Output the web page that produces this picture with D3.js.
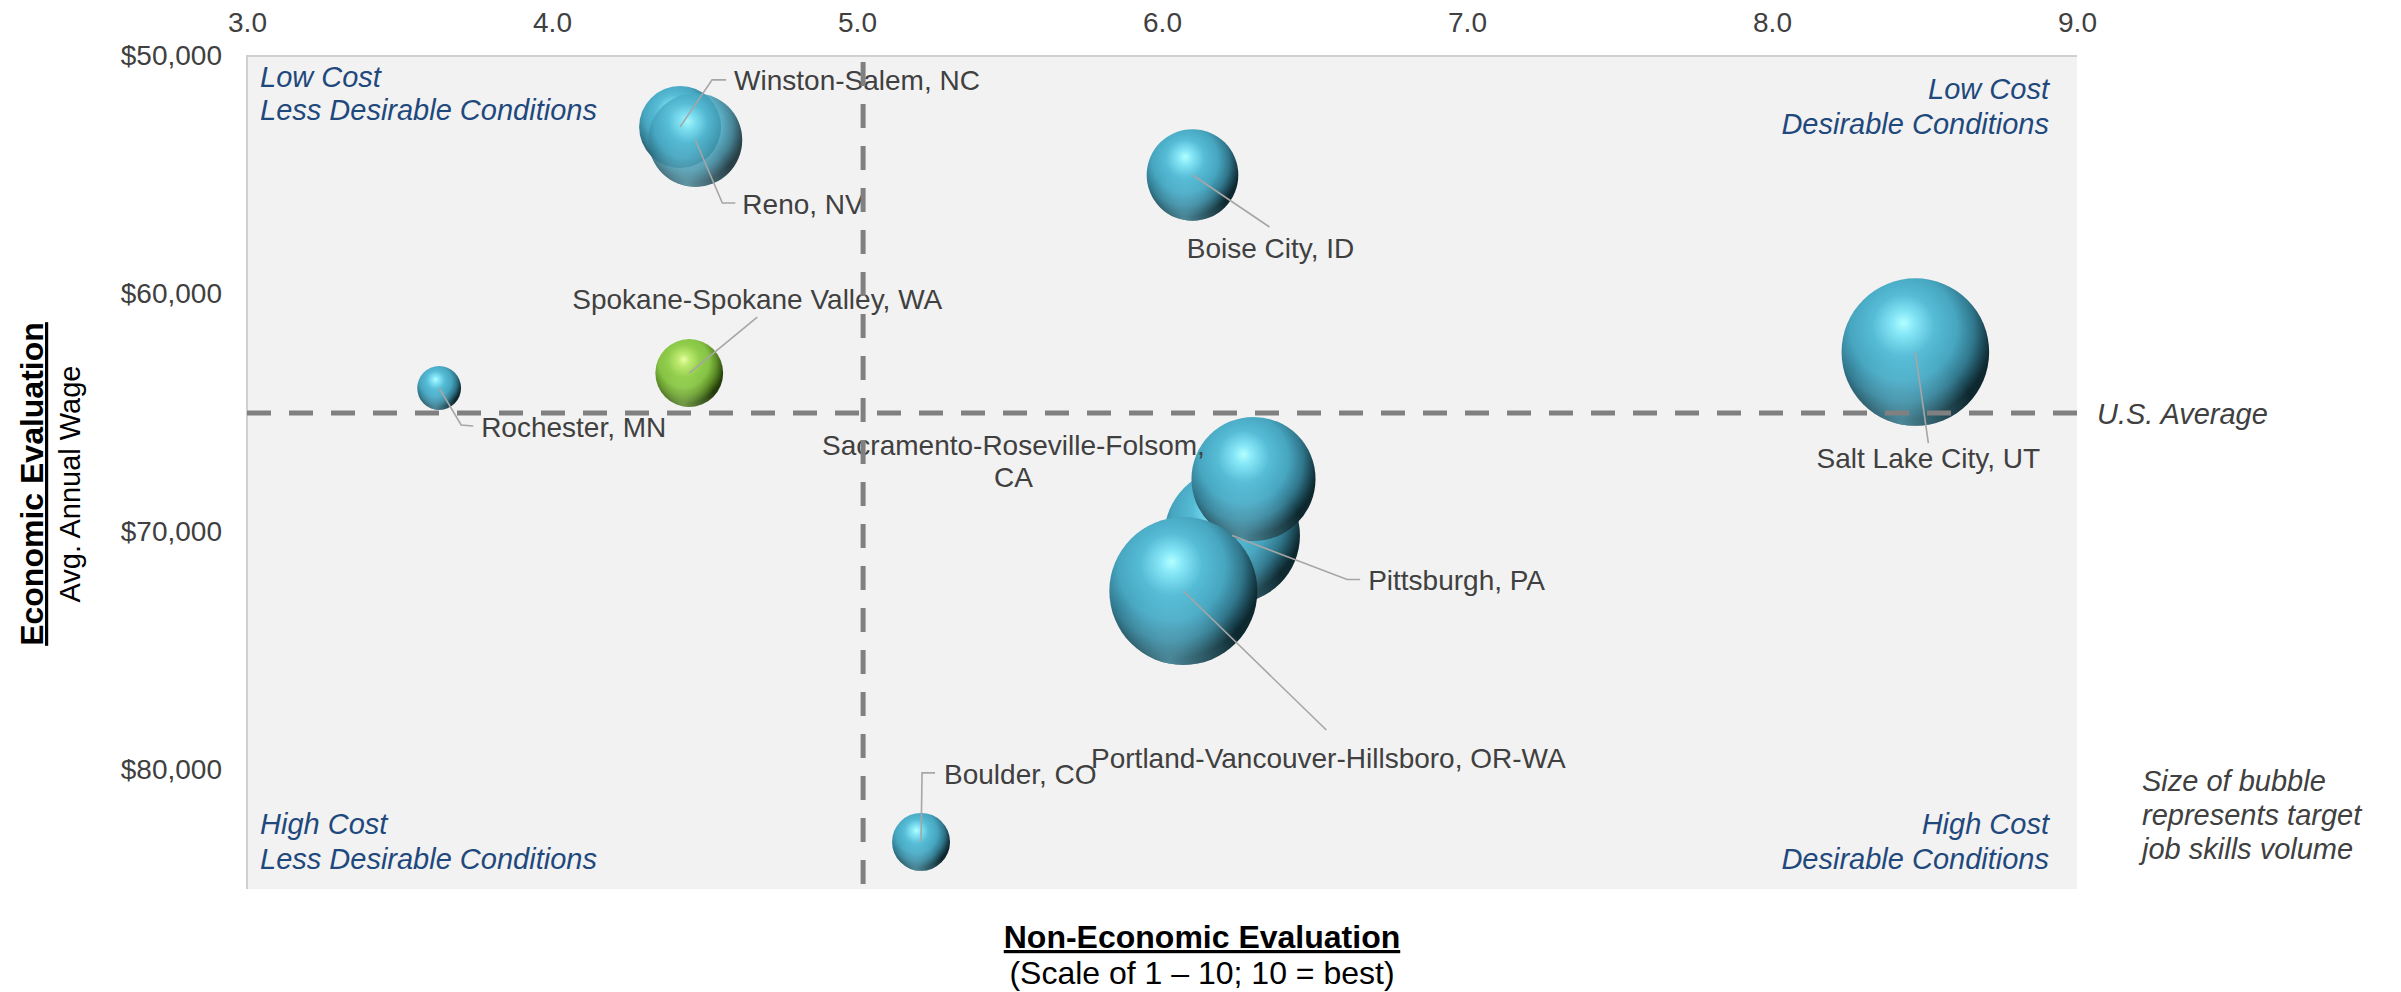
<!DOCTYPE html>
<head>
  <meta charset="utf-8">
  <script src="https://d3js.org/d3.v7.min.js"></script>
  <style>
    body { margin:0; background:#fff; }
    text { font-family: "Liberation Sans", Arial, sans-serif; }
  </style>
</head>

<body>
  <div class="bubble-chart"></div>
  <script>

  // metros, in drawing order (back to front)
  const cities = [
    "Rochester, MN",
    "Spokane-Spokane Valley, WA",
    "Winston-Salem, NC",
    "Reno, NV",
    "Boise City, ID",
    "Salt Lake City, UT",
    "Pittsburgh, PA",
    "Sacramento-Roseville-Folsom, CA",
    "Portland-Vancouver-Hillsboro, OR-WA",
    "Boulder, CO"
  ];
  // non-economic score (1-10)
  const scores = [3.63, 4.45, 4.42, 4.47, 6.10, 8.47, 6.23, 6.30, 6.07, 5.21];
  // average annual wage
  const wages = [63950, 63320, 52980, 53530, 55000, 62440, 70150, 67770, 72480, 83020];
  // target job skills volume (bubble area)
  const volumes = [480, 1150, 1680, 2200, 2100, 5450, 4600, 3850, 5480, 840];

  const highlightCity = "Spokane-Spokane Valley, WA";
  const usAverageWage = 65000;
  const scoreDivider = 5.02;

  const xTicks = [3, 4, 5, 6, 7, 8, 9];
  const yTicks = [50000, 60000, 70000, 80000];

  // callout leader lines + label spots, relative to the bubble centre
  const callouts = {
    "Rochester, MN": { path: [[22, 37], [34, 38]], label: [42, 39], anchor: "start" },
    "Spokane-Spokane Valley, WA": { path: [[68, -56]], label: [68, -74], anchor: "middle" },
    "Winston-Salem, NC": { path: [[32, -47], [46, -47]], label: [54, -47], anchor: "start" },
    "Reno, NV": { path: [[27, 63], [40, 63]], label: [47, 64], anchor: "start" },
    "Boise City, ID": { path: [[77, 52]], label: [78, 73], anchor: "middle" },
    "Salt Lake City, UT": { path: [[13, 91]], label: [13, 106], anchor: "middle" },
    "Pittsburgh, PA": { path: [[115, 44], [128, 44]], label: [136, 45], anchor: "start" },
    "Sacramento-Roseville-Folsom, CA": { path: [], label: [-240, -34], anchor: "middle",
                                         lines: ["Sacramento-Roseville-Folsom,", "CA"] },
    "Portland-Vancouver-Hillsboro, OR-WA": { path: [[143, 139]], label: [145, 167], anchor: "middle" },
    "Boulder, CO": { path: [[1, -69], [14, -69]], label: [23, -68], anchor: "start" }
  };

  const width = 2401, height = 992;
  const plot = { left: 247, right: 2077, top: 56, bottom: 889 };

  const svg = d3.select('.bubble-chart')
    .append('svg')
      .attr('width', width)
      .attr('height', height);

  const xScale = d3.scaleLinear()
    .domain([3, 9])
    .range([plot.left, plot.right]);

  const yScale = d3.scaleLinear()
    .domain([50000, 85000])
    .range([plot.top, plot.bottom]);

  const rScale = d3.scaleSqrt()
    .domain([0, d3.max(volumes)])
    .range([0, 74]);

  // shaded "3d ball" fills
  const defs = svg.append('defs');
  function ballGradient(id, stops) {
    const g = defs.append('radialGradient')
      .attr('id', id)
      .attr('cx', 0.42).attr('cy', 0.36).attr('r', 0.6)
      .attr('fx', 0.42).attr('fy', 0.3);
    stops.forEach(s => g.append('stop').attr('offset', s[0]).attr('stop-color', s[1]));
  }
  function rimGradient(id, color) {
    const g = defs.append('radialGradient')
      .attr('id', id)
      .attr('cx', 0.4).attr('cy', 0.98).attr('r', 0.5);
    g.append('stop').attr('offset', 0).attr('stop-color', color).attr('stop-opacity', 0.55);
    g.append('stop').attr('offset', 1).attr('stop-color', color).attr('stop-opacity', 0);
  }
  ballGradient('ball-blue', [
    [0, '#b2ffff'], [0.12, '#88e8f8'], [0.35, '#56bcd6'], [0.6, '#47a6c0'],
    [0.8, '#30768b'], [0.92, '#1b4653'], [1, '#0e282f']
  ]);
  ballGradient('ball-green', [
    [0, '#e6ffa2'], [0.15, '#bdea70'], [0.4, '#92ce4c'], [0.62, '#86c244'],
    [0.8, '#5f9028'], [0.92, '#3c6016'], [1, '#243c0c']
  ]);
  rimGradient('rim-blue', '#7fd8f0');
  rimGradient('rim-green', '#b4e87a');

  // plot area
  svg.append('rect')
    .attr('x', plot.left)
    .attr('y', plot.top)
    .attr('width', plot.right - plot.left)
    .attr('height', plot.bottom - plot.top)
    .style('fill', '#f2f2f2');

  svg.append('path')
    .attr('d', `M${plot.left},${plot.bottom}V${plot.top}H${plot.right}`)
    .style('fill', 'none')
    .style('stroke', '#d0d0d0')
    .style('stroke-width', 2);

  // axes
  const xAxis = svg.append('g')
    .attr('transform', `translate(0,${plot.top})`)
    .call(d3.axisTop(xScale).tickValues(xTicks).tickFormat(d3.format('.1f')).tickSize(0).tickPadding(24));

  const yAxis = svg.append('g')
    .attr('transform', `translate(${plot.left},0)`)
    .call(d3.axisLeft(yScale).tickValues(yTicks).tickFormat(d => '$' + d3.format(',')(d)).tickSize(0).tickPadding(25));

  [xAxis, yAxis].forEach(ax => {
    ax.select('.domain').remove();
    ax.selectAll('text')
      .style('font-family', '"Liberation Sans", Arial, sans-serif')
      .style('font-size', '28px')
      .style('fill', '#404040');
  });

  // quadrant notes
  const quadrantNotes = [
    { lines: ['Low Cost', 'Less Desirable Conditions'], x: plot.left + 13, y: [87, 120], anchor: 'start' },
    { lines: ['Low Cost', 'Desirable Conditions'], x: plot.right - 28, y: [99, 134], anchor: 'end' },
    { lines: ['High Cost', 'Less Desirable Conditions'], x: plot.left + 13, y: [834, 869], anchor: 'start' },
    { lines: ['High Cost', 'Desirable Conditions'], x: plot.right - 28, y: [834, 869], anchor: 'end' }
  ];
  quadrantNotes.forEach(q => {
    q.lines.forEach((t, i) => {
      svg.append('text')
        .attr('x', q.x)
        .attr('y', q.y[i])
        .attr('text-anchor', q.anchor)
        .style('font-size', '29px')
        .style('font-style', 'italic')
        .style('fill', '#1f497d')
        .text(t);
    });
  });

  // bubbles
  const points = cities.map((c, i) => ({
    city: c,
    cx: xScale(scores[i]),
    cy: yScale(wages[i]),
    r: rScale(volumes[i])
  }));

  const balls = svg.selectAll('.bubble')
    .data(points)
    .enter()
    .append('g')
    .attr('class', 'bubble')
    .style('opacity', d => d.city === 'Reno, NV' ? 0.88 : 1);

  balls.append('circle')
    .attr('cx', d => d.cx)
    .attr('cy', d => d.cy)
    .attr('r', d => d.r)
    .style('fill', d => d.city === highlightCity ? 'url(#ball-green)' : 'url(#ball-blue)');

  balls.append('circle')
    .attr('cx', d => d.cx)
    .attr('cy', d => d.cy)
    .attr('r', d => d.r)
    .style('fill', d => d.city === highlightCity ? 'url(#rim-green)' : 'url(#rim-blue)');

  // leader lines
  svg.selectAll('.leader')
    .data(points.filter(d => callouts[d.city].path.length))
    .enter()
    .append('path')
    .attr('class', 'leader')
    .attr('d', d => d3.line()([[d.cx, d.cy]].concat(callouts[d.city].path.map(p => [d.cx + p[0], d.cy + p[1]]))))
    .style('fill', 'none')
    .style('stroke', '#a6a6a6')
    .style('stroke-width', 1.6);

  // data labels
  points.forEach(d => {
    const c = callouts[d.city];
    const lines = c.lines || [d.city];
    lines.forEach((t, i) => {
      svg.append('text')
        .attr('x', d.cx + c.label[0])
        .attr('y', d.cy + c.label[1] + i * 32)
        .attr('dy', '0.35em')
        .attr('text-anchor', c.anchor)
        .style('font-size', '28px')
        .style('fill', '#404040')
        .text(t);
    });
  });

  // reference lines
  const dashStyle = sel => sel
    .style('stroke', '#808080')
    .style('stroke-width', 5)
    .style('stroke-dasharray', '24 18');

  svg.append('line')
    .attr('x1', plot.left).attr('x2', plot.right)
    .attr('y1', yScale(usAverageWage)).attr('y2', yScale(usAverageWage))
    .call(dashStyle);

  svg.append('line')
    .attr('x1', xScale(scoreDivider)).attr('x2', xScale(scoreDivider))
    .attr('y1', plot.top + 6).attr('y2', plot.bottom)
    .call(dashStyle);

  svg.append('text')
    .attr('x', plot.right + 20)
    .attr('y', yScale(usAverageWage) + 11)
    .style('font-size', '29px')
    .style('font-style', 'italic')
    .style('fill', '#404040')
    .text('U.S. Average');

  // bubble size note
  ['Size of bubble', 'represents target', 'job skills volume'].forEach((t, i) => {
    svg.append('text')
      .attr('x', 2142)
      .attr('y', 791 + i * 34)
      .style('font-size', '29px')
      .style('font-style', 'italic')
      .style('fill', '#404040')
      .text(t);
  });

  // axis titles
  svg.append('text')
    .attr('transform', 'translate(43,484) rotate(-90)')
    .attr('text-anchor', 'middle')
    .style('font-size', '32px')
    .style('font-weight', 'bold')
    .style('text-decoration', 'underline')
    .style('fill', '#000')
    .text('Economic Evaluation');

  svg.append('text')
    .attr('transform', 'translate(80,484) rotate(-90)')
    .attr('text-anchor', 'middle')
    .style('font-size', '29px')
    .style('fill', '#000')
    .text('Avg. Annual Wage');

  svg.append('text')
    .attr('x', 1202)
    .attr('y', 948)
    .attr('text-anchor', 'middle')
    .style('font-size', '32px')
    .style('font-weight', 'bold')
    .style('text-decoration', 'underline')
    .style('fill', '#000')
    .text('Non-Economic Evaluation');

  svg.append('text')
    .attr('x', 1202)
    .attr('y', 984)
    .attr('text-anchor', 'middle')
    .style('font-size', '32px')
    .style('fill', '#000')
    .text('(Scale of 1 \u2013 10; 10 = best)');

  </script>
</body>
